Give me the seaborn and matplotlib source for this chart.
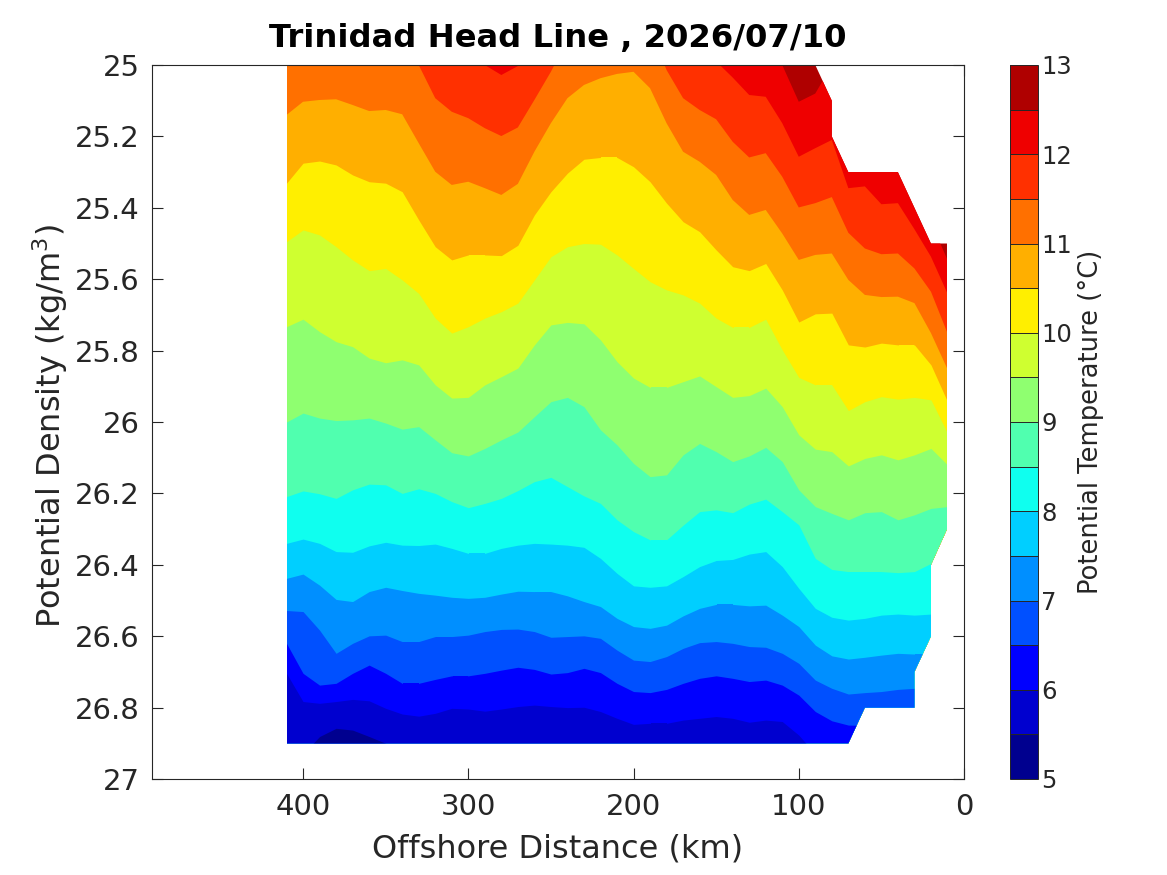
import matplotlib
matplotlib.use("Agg")
import matplotlib.pyplot as plt
import seaborn as sns
from matplotlib.cm import ScalarMappable
from matplotlib.colors import BoundaryNorm, ListedColormap
from matplotlib.patches import Polygon

# Stations along the line (km offshore)
station_km = [410, 400, 390, 380, 370, 360, 350, 340, 330, 320, 310, 300, 290, 280,
              270, 260, 250, 240, 230, 220, 210, 200, 190, 180, 170, 160, 150, 140,
              130, 120, 110, 100, 90, 80, 70, 60, 50, 40, 30, 20, 10]

# Density of each isotherm at each station.
# 24.9 = isotherm is above the top of the plot, 26.97 = below the sampled area
iso_12_5 = [24.9] * 30 + [25.0, 25.103, 25.08, 25.0, 24.9, 24.9, 24.9, 24.9, 25.38, 25.44, 25.546]
iso_12_0 = [24.9] * 12 + [25.0, 25.028, 25.003] + [24.9] * 11 + [
    24.99, 25.035, 25.084, 25.089, 25.163, 25.257, 25.233, 25.21, 25.345, 25.34,
    25.39, 25.387, 25.46, 25.537, 25.64]
iso_11_5 = [24.9] * 8 + [25.0, 25.093, 25.131, 25.149, 25.177, 25.199, 25.175, 25.098, 25.019, 24.93] + [24.9] * 5 + [
    25.014, 25.093, 25.126, 25.152, 25.215, 25.259, 25.247, 25.313, 25.399, 25.387,
    25.37, 25.47, 25.514, 25.53, 25.528, 25.57, 25.635, 25.751]
iso_11_0 = [25.14, 25.103, 25.098, 25.096, 25.112, 25.129, 25.126, 25.138, 25.219, 25.299,
            25.336, 25.327, 25.345, 25.364, 25.333, 25.243, 25.163, 25.093, 25.056, 25.037,
            25.025, 25.019, 25.065, 25.163, 25.243, 25.271, 25.308, 25.378, 25.42, 25.406,
            25.472, 25.546, 25.532, 25.528, 25.602, 25.644, 25.65, 25.649, 25.667, 25.751, 25.852]
iso_10_5 = [25.331, 25.275, 25.269, 25.28, 25.308, 25.327, 25.331, 25.355, 25.434, 25.509,
            25.546, 25.532, 25.532, 25.534, 25.505, 25.42, 25.355, 25.303, 25.264, 25.259,
            25.259, 25.285, 25.327, 25.387, 25.439, 25.467, 25.518, 25.565, 25.576, 25.556,
            25.63, 25.72, 25.697, 25.695, 25.784, 25.79, 25.779, 25.784, 25.784, 25.84, 25.943]
iso_10_0 = [25.495, 25.462, 25.476, 25.509, 25.546, 25.576, 25.57, 25.602, 25.64, 25.709,
            25.751, 25.733, 25.709, 25.691, 25.667, 25.602, 25.537, 25.509, 25.5, 25.502,
            25.532, 25.57, 25.607, 25.63, 25.644, 25.667, 25.709, 25.735, 25.735, 25.712,
            25.798, 25.875, 25.896, 25.896, 25.968, 25.943, 25.929, 25.936, 25.931, 25.938, 26.031]
iso_9_5 = [25.733, 25.712, 25.747, 25.775, 25.789, 25.821, 25.834, 25.826, 25.84, 25.896,
           25.933, 25.931, 25.896, 25.873, 25.849, 25.784, 25.728, 25.721, 25.725, 25.77,
           25.831, 25.877, 25.903, 25.903, 25.887, 25.871, 25.901, 25.931, 25.926, 25.905,
           25.957, 26.036, 26.076, 26.083, 26.123, 26.102, 26.092, 26.106, 26.092, 26.074, 26.12]
iso_9_0 = [26.0, 25.975, 25.989, 25.996, 25.994, 25.989, 26.003, 26.02, 26.013, 26.05,
           26.086, 26.095, 26.074, 26.05, 26.028, 25.985, 25.943, 25.931, 25.957, 26.022,
           26.064, 26.116, 26.153, 26.148, 26.092, 26.06, 26.083, 26.111, 26.095, 26.071,
           26.111, 26.19, 26.237, 26.256, 26.274, 26.254, 26.251, 26.274, 26.26, 26.242, 26.237]
iso_8_5 = [26.209, 26.193, 26.201, 26.214, 26.19, 26.174, 26.176, 26.2, 26.187, 26.2,
           26.223, 26.24, 26.228, 26.214, 26.192, 26.167, 26.155, 26.181, 26.207, 26.228,
           26.274, 26.307, 26.33, 26.33, 26.289, 26.251, 26.246, 26.254, 26.23, 26.216,
           26.251, 26.288, 26.382, 26.413, 26.419, 26.419, 26.419, 26.422, 26.419, 26.396, 26.302]
iso_8_0 = [26.34, 26.328, 26.34, 26.363, 26.365, 26.347, 26.337, 26.345, 26.346, 26.342,
           26.354, 26.368, 26.368, 26.354, 26.345, 26.34, 26.342, 26.345, 26.351, 26.382,
           26.424, 26.459, 26.463, 26.459, 26.433, 26.405, 26.388, 26.385, 26.37, 26.363,
           26.405, 26.466, 26.522, 26.547, 26.555, 26.55, 26.541, 26.538, 26.541, 26.538, 26.538]
iso_7_5 = [26.438, 26.426, 26.457, 26.497, 26.503, 26.475, 26.463, 26.472, 26.48, 26.485,
           26.491, 26.494, 26.491, 26.482, 26.474, 26.475, 26.475, 26.487, 26.503, 26.517,
           26.55, 26.573, 26.578, 26.569, 26.543, 26.522, 26.511, 26.511, 26.515, 26.513,
           26.541, 26.573, 26.625, 26.655, 26.664, 26.659, 26.653, 26.648, 26.65, 26.65, 26.65]
iso_7_0 = [26.528, 26.531, 26.583, 26.648, 26.62, 26.599, 26.597, 26.615, 26.615, 26.601,
           26.601, 26.597, 26.587, 26.581, 26.58, 26.587, 26.603, 26.601, 26.599, 26.606,
           26.639, 26.667, 26.671, 26.657, 26.634, 26.618, 26.615, 26.62, 26.629, 26.631,
           26.648, 26.676, 26.723, 26.746, 26.762, 26.758, 26.755, 26.749, 26.746, 26.746, 26.746]
iso_6_5 = [26.62, 26.704, 26.737, 26.732, 26.704, 26.681, 26.704, 26.732, 26.732, 26.721,
           26.711, 26.711, 26.704, 26.695, 26.687, 26.693, 26.706, 26.702, 26.69, 26.702,
           26.732, 26.755, 26.758, 26.749, 26.732, 26.718, 26.711, 26.718, 26.727, 26.723,
           26.737, 26.765, 26.811, 26.837, 26.849, 26.85, 26.97, 26.97, 26.97, 26.97, 26.97]
iso_6_0 = [26.704, 26.783, 26.788, 26.783, 26.777, 26.781, 26.802, 26.818, 26.824, 26.816,
           26.802, 26.804, 26.81, 26.804, 26.797, 26.793, 26.797, 26.8, 26.799, 26.811,
           26.83, 26.847, 26.844, 26.844, 26.835, 26.83, 26.825, 26.83, 26.841, 26.835,
           26.839, 26.877, 26.93, 26.97, 26.97, 26.97, 26.97, 26.97, 26.97, 26.97, 26.97]
iso_5_5 = [26.97, 26.93, 26.881, 26.858, 26.863, 26.881, 26.9, 26.94] + [26.97] * 33

# Warmest first, each one paints everything below it
isotherms = [iso_12_5, iso_12_0, iso_11_5, iso_11_0, iso_10_5, iso_10_0, iso_9_5, iso_9_0,
             iso_8_5, iso_8_0, iso_7_5, iso_7_0, iso_6_5, iso_6_0, iso_5_5]

# Outline of the sampled area (pulled in a hair so the painted layers don't show at the ends)
edge_km = [409.7, 90, 80, 80, 70, 40, 20, 10.3, 10.3, 20, 20, 30, 30, 60, 70, 409.7]
edge_density = [25.0, 25.0, 25.1, 25.2, 25.3, 25.3, 25.5, 25.5, 26.3, 26.4, 26.6, 26.7, 26.8, 26.8, 26.9, 26.9]

levels = [5, 5.5, 6, 6.5, 7, 7.5, 8, 8.5, 9, 9.5, 10, 10.5, 11, 11.5, 12, 12.5, 13]
band_colors = ["#00008f", "#0000cf", "#0000ff", "#0050ff", "#008fff", "#00cfff", "#0fffef", "#50ffaf",
               "#8fff70", "#cfff30", "#ffef00", "#ffaf00", "#ff7000", "#ff3000", "#ef0000", "#af0000"]
x_ticks = [0, 100, 200, 300, 400]
y_ticks = [25, 25.2, 25.4, 25.6, 25.8, 26, 26.2, 26.4, 26.6, 26.8, 27]
y_labels = ["25", "25.2", "25.4", "25.6", "25.8", "26", "26.2", "26.4", "26.6", "26.8", "27"]
cbar_ticks = [5, 6, 7, 8, 9, 10, 11, 12, 13]

sns.set_theme(style="ticks")
plt.rcParams["font.family"] = "DejaVu Sans"
plt.rcParams["mathtext.default"] = "regular"
palette = sns.color_palette(band_colors)
dark = "#262626"

W, H = 1167, 875
fig = plt.figure(figsize=(W / 100, H / 100), dpi=100)
ax = fig.add_axes([152 / W, 1 - 779 / H, 812 / W, 714 / H])
cax = fig.add_axes([1010 / W, 1 - 779 / H, 28 / W, 714 / H])

ax.set_xlim(491.4, 0)
ax.set_ylim(27, 25)

clip = Polygon(list(zip(edge_km, edge_density)), closed=True, transform=ax.transData)

# Warmest band fills the whole area, the cooler ones go on top
first = ax.fill_between(station_km, 24.5, 27.5, color=palette[15], linewidth=0)
first.set_clip_path(clip)
for i, iso in enumerate(isotherms):
    band = ax.fill_between(station_km, iso, 27.5, color=palette[14 - i], linewidth=0)
    band.set_clip_path(clip)

ax.set_xticks(x_ticks)
ax.set_yticks(y_ticks)
ax.set_yticklabels(y_labels)
ax.tick_params(axis="both", direction="in", length=8, width=0.8, color=dark,
               labelcolor=dark, labelsize=21, top=True, right=True)
ax.tick_params(axis="x", pad=10)
ax.tick_params(axis="y", pad=9)
for spine in ax.spines.values():
    spine.set_linewidth(0.8)
    spine.set_color(dark)

ax.set_xlabel("Offshore Distance (km)", fontsize=23, color=dark, labelpad=9)
ax.set_ylabel("Potential Density (kg/m$^3$)", fontsize=23, color=dark, labelpad=3, y=0.494)
ax.set_title("Trinidad Head Line , 2026/07/10", fontsize=23.2, fontweight="bold", color="black", pad=13)

cmap = ListedColormap(palette)
norm = BoundaryNorm(levels, cmap.N)
cbar = fig.colorbar(ScalarMappable(norm=norm, cmap=cmap), cax=cax, drawedges=True, ticks=cbar_ticks)
cbar.dividers.set_color(dark)
cbar.dividers.set_linewidth(0.7)
cbar.outline.set_edgecolor(dark)
cbar.outline.set_linewidth(0.7)
cbar.ax.minorticks_off()
cbar.ax.tick_params(which="both", length=0, labelsize=17.5, labelcolor=dark, pad=2.5)
cbar.ax.set_yticklabels([str(t) for t in cbar_ticks])
cbar.set_label("Potential Temperature (°C)", fontsize=18.5, color=dark, labelpad=4)

fig.savefig("out.png", dpi=100)
